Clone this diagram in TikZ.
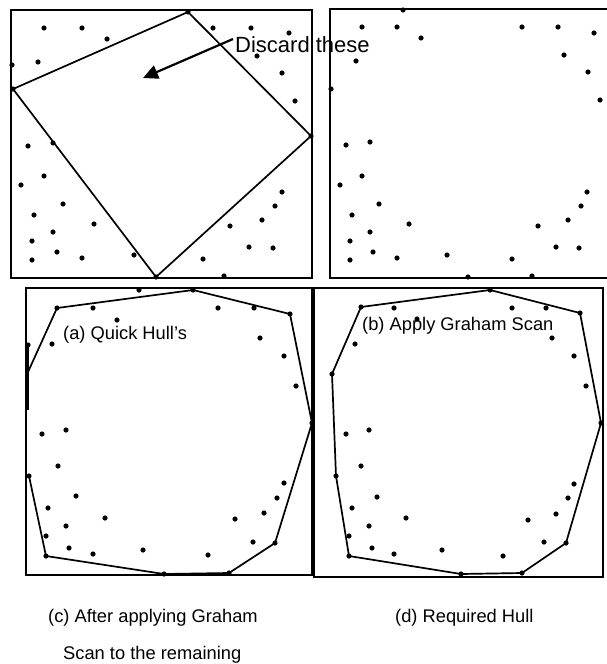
\documentclass[tikz,border=0pt]{standalone}
\usepackage{fontspec}
\setmainfont{Liberation Sans}
\usetikzlibrary{arrows.meta}
\begin{document}
\begin{tikzpicture}[x=1pt,y=-1pt,
  frame/.style={line width=2.4pt},
  hull/.style={line width=1.7pt, line join=round},
  dot/.style={fill=black},
  lbl/.style={inner sep=0pt, anchor=base west, font=\fontsize{18.3pt}{20pt}\selectfont},
  pointer/.style={line width=2.2pt, -{Triangle[length=15pt,width=14pt]}}]
\useasboundingbox (0,0) rectangle (607,664);
\clip (0,0) rectangle (607,664);
\fill[white] (0,0) rectangle (607,664);
% ---------- Panel A ----------
\draw[frame] (11,10) rectangle (312,278);
\draw[hull] (188,12) -- (311,136) -- (156,277) -- (13,89) -- cycle;
\foreach \p in {(188,12),(311,136),(156,277),(13,89),
  (44,28),(82,28),(107,39),(38,62),(12,65),(213,28),(251,28),(289,33),(257,56),(282,73),(295,101),
  (28,146),(53,143),(44,176),(21,185),(63,204),(34,215),(94,224),(53,232),(32,241),(57,252),(32,260),
  (82,258),(134,255),(203,259),(224,276),(282,192),(275,206),(262,220),(230,226),(249,247),(273,248)}
  \fill[dot] \p circle (2.6pt);
% ---------- Panel B ----------
\draw[frame] (607,9) -- (330,9) -- (330,278) -- (607,278);
\foreach \p in {(403,10),(331,89),(468,277),
  (362,27),(397,27),(421,38),(356,61),(522,27),(558,27),(594,33),(564,55),(588,72),(600,100),
  (346,145),(370,142),(362,176),(340,185),(379,204),(352,215),(409,224),(370,232),(350,241),(373,252),
  (350,260),(397,258),(447,255),(512,259),(532,276),(587,192),(581,206),(568,220),(538,226),(556,247),(579,248)}
  \fill[dot] \p circle (2.6pt);
% arrow and label
\node[inner sep=0pt, anchor=base west, font=\fontsize{22pt}{24pt}\selectfont] (discard) at (235,52) {Discard these};
\coordinate (arrstart) at (233,39);
\coordinate (arrend) at (143,78);
\draw[pointer] (arrstart) -- (arrend);
% ---------- Panel C ----------
\draw[frame] (26,288) rectangle (312,575);
\draw[hull] (57,308) -- (193,290) -- (290,314) -- (312,423) -- (275,543) -- (229,573) -- (164,574) -- (46,556) -- (29,476);
\draw[hull] (57,308) -- (28,372);
\draw[line width=2.2pt] (28,345) -- (28,410);
\foreach \p in {(193,290),(290,314),(312,423),(275,543),(229,573),(164,574),(46,556),(29,476),(57,308),(28,345),
  (139,290),(93,308),(117,320),(52,344),(218,308),(254,308),(260,338),(284,356),(296,386),
  (42,434),(66,430),(58,466),(76,496),(48,508),(105,518),(66,526),(46,536),(69,548),(93,554),
  (143,550),(208,555),(235,519),(264,513),(277,498),(284,483),(253,542)}
  \fill[dot] \p circle (2.6pt);
\node[lbl] (la) at (63,339) {(a) Quick Hull’s};
% ---------- Panel D ----------
\draw[frame] (314,288) rectangle (603,577);
\draw[hull] (490,290) -- (580,313) -- (601,423) -- (566,543) -- (522,573) -- (461,574) -- (349,556) -- (336,476) -- (332,374) -- (361,307) -- cycle;
\foreach \p in {(490,290),(580,313),(601,423),(566,543),(522,573),(461,574),(349,556),(336,476),(332,374),(361,307),
  (394,308),(417,319),(355,344),(512,308),(546,308),(552,338),(574,356),(586,386),
  (346,434),(369,430),(361,466),(377,497),(352,508),(406,518),(369,526),(349,536),(372,548),(394,554),
  (442,550),(503,556),(528,520),(556,514),(568,498),(574,484),(544,542)}
  \fill[dot] \p circle (2.6pt);
\node[lbl] (lb) at (362,330) {(b) Apply Graham Scan};
% ---------- captions ----------
\node[lbl] (lc) at (48,622) {(c) After applying Graham};
\node[lbl] (ld) at (395,622) {(d) Required Hull};
\node[lbl] (le) at (63,659) {Scan to the remaining};
\end{tikzpicture}
\end{document}
